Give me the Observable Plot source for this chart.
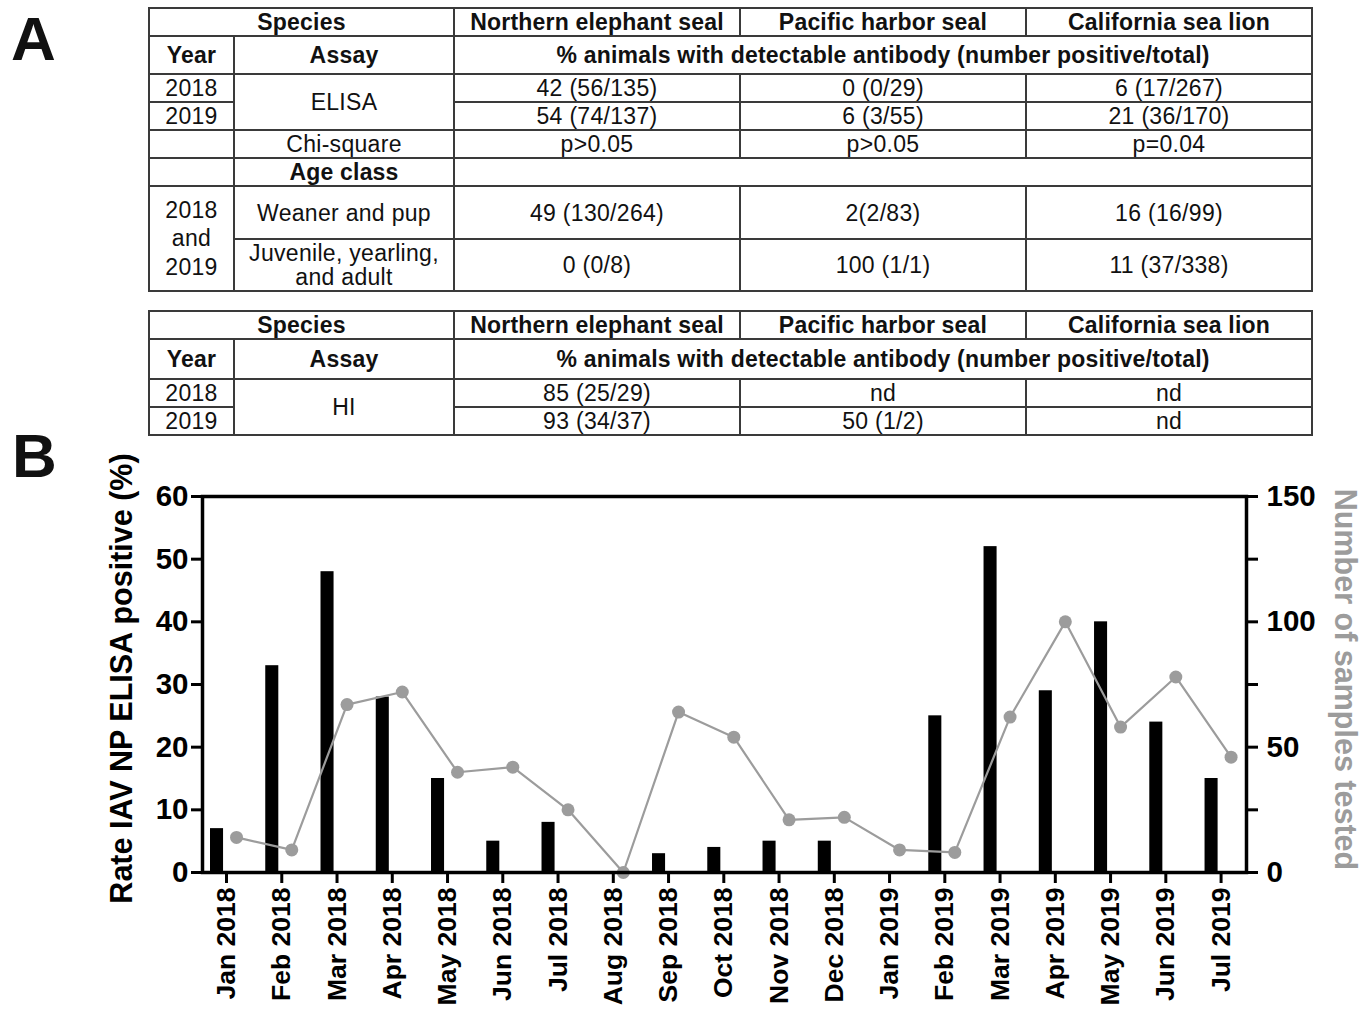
<!DOCTYPE html>
<html>
<head>
<meta charset="utf-8">
<script src="https://cdn.jsdelivr.net/npm/d3@7"></script>
<script src="https://cdn.jsdelivr.net/npm/@observablehq/plot@0.6"></script>
<style>
  html, body { margin: 0; padding: 0; background: #fff; }
  body { width: 1369px; height: 1012px; position: relative; overflow: hidden; font-family: "Liberation Sans", Arial, sans-serif; color: #111; }
  .panel { position: absolute; font-weight: bold; font-size: 62px; line-height: 1; z-index: 2; }
  table { position: absolute; left: 148px; border-collapse: collapse; table-layout: fixed; font-size: 23px; letter-spacing: 0.3px; z-index: 2; background: #fff; }
  td { border: 2px solid #3a3a3a; padding: 0; text-align: center; vertical-align: middle; line-height: 22px; overflow: visible; white-space: nowrap; }
  td.b { font-weight: bold; letter-spacing: 0.2px; }
  td.ml { line-height: 28.5px; }
  td.ml2 { line-height: 24.5px; }
  #chart { position: absolute; left: 0; top: 440px; z-index: 1; }
</style>
</head>
<body>
<div class="panel" style="left:11px; top:8px;">A</div>
<div class="panel" style="left:12px; top:425px;">B</div>
<div id="tables"></div>
<div id="chart"></div>
<script>
// ---------- Panel A data ----------
const species = ["Northern elephant seal", "Pacific harbor seal", "California sea lion"];
const measureHeader = "% animals with detectable antibody (number positive/total)";
const elisa2018 = ["42 (56/135)", "0 (0/29)", "6 (17/267)"];
const elisa2019 = ["54 (74/137)", "6 (3/55)", "21 (36/170)"];
const chiSquare = ["p>0.05", "p>0.05", "p=0.04"];
const weanerPup = ["49 (130/264)", "2(2/83)", "16 (16/99)"];
const juvenileAdult = ["0 (0/8)", "100 (1/1)", "11 (37/338)"];
const hi2018 = ["85 (25/29)", "nd", "nd"];
const hi2019 = ["93 (34/37)", "50 (1/2)", "nd"];

// ---------- Panel B data ----------
const months = ["Jan 2018","Feb 2018","Mar 2018","Apr 2018","May 2018","Jun 2018","Jul 2018","Aug 2018","Sep 2018","Oct 2018","Nov 2018","Dec 2018","Jan 2019","Feb 2019","Mar 2019","Apr 2019","May 2019","Jun 2019","Jul 2019"];
const elisaRate = [7,33,48,28,15,5,8,0,3,4,5,5,0,25,52,29,40,24,15];
const samplesTested = [14,9,67,72,40,42,25,0,64,54,21,22,9,8,62,100,58,78,46];
const leftTicks = [0,10,20,30,40,50,60];
const rightTicks = [0,25,50,75,100,125,150];
const rightMax = 150, leftMax = 60;

// ---------- Tables ----------
const colgroup = `<colgroup><col style="width:85px"><col style="width:220px"><col style="width:286px"><col style="width:286px"><col style="width:286px"></colgroup>`;
const cells = arr => arr.map(v => `<td>${v}</td>`).join("");
const headRows = (h2) => `
  <tr style="height:28px"><td class="b" colspan="2">Species</td>${species.map(s => `<td class="b">${s}</td>`).join("")}</tr>
  <tr style="height:${h2}px"><td class="b">Year</td><td class="b">Assay</td><td class="b" colspan="3">${measureHeader}</td></tr>`;
const t1 = `<table style="top:7px;width:1163px">${colgroup}
  ${headRows(38)}
  <tr style="height:28px"><td>2018</td><td rowspan="2">ELISA</td>${cells(elisa2018)}</tr>
  <tr style="height:28px"><td>2019</td>${cells(elisa2019)}</tr>
  <tr style="height:28px"><td></td><td>Chi-square</td>${cells(chiSquare)}</tr>
  <tr style="height:28px"><td></td><td class="b">Age class</td><td colspan="3"></td></tr>
  <tr style="height:53px"><td rowspan="2" class="ml">2018<br>and<br>2019</td><td>Weaner and pup</td>${cells(weanerPup)}</tr>
  <tr style="height:52px"><td class="ml2">Juvenile, yearling,<br>and adult</td>${cells(juvenileAdult)}</tr>
</table>`;
const t2 = `<table style="top:310px;width:1163px">${colgroup}
  ${headRows(40)}
  <tr style="height:28px"><td>2018</td><td rowspan="2">HI</td>${cells(hi2018)}</tr>
  <tr style="height:28px"><td>2019</td>${cells(hi2019)}</tr>
</table>`;
document.getElementById("tables").innerHTML = t1 + t2;

// ---------- Chart ----------
const data = months.map((m, i) => ({month: m, rate: elisaRate[i], n: samplesTested[i]}));
const toLeft = v => v * leftMax / rightMax;
const grey = "#9c9c9c";

const chart = Plot.plot({
  width: 1369,
  height: 572,
  marginTop: 56,
  marginBottom: 140,
  marginLeft: 202,
  marginRight: 123,
  style: {fontFamily: "'Liberation Sans', Arial, sans-serif", fontSize: "28px", color: "#000", background: "transparent", overflow: "visible"},
  x: {domain: months, type: "band", padding: 0, round: false, range: [198.4, 1248.2]},
  y: {domain: [0, leftMax]},
  marks: [
    Plot.barY(data, {x: "month", y: "rate", fill: "#000", insetLeft: 11.6, insetRight: 30.6}),
    Plot.line(data, {x: "month", y: d => toLeft(d.n), stroke: grey, strokeWidth: 2.2, dx: 10}),
    Plot.dot(data, {x: "month", y: d => toLeft(d.n), r: 6.5, fill: grey, dx: 10}),
    Plot.frame({stroke: "#000", strokeWidth: 3.5}),
    Plot.axisY({anchor: "left", ticks: leftTicks, tickSize: 11, tickPadding: 3, strokeWidth: 3, fontSize: 29.5, fontWeight: "bold", label: null}),
    Plot.axisY({anchor: "right", ticks: rightTicks.map(toLeft), tickFormat: d => { const v = Math.round(d * rightMax / leftMax); return v % 50 === 0 ? String(v) : ""; }, tickSize: 11, tickPadding: 9, strokeWidth: 3, fontSize: 29.5, fontWeight: "bold", label: null}),
    Plot.axisX({anchor: "bottom", tickSize: 11, tickPadding: 4, tickRotate: -90, strokeWidth: 3, fontSize: 26.5, fontWeight: "bold", label: null}),
    Plot.text(["Rate IAV NP ELISA positive (%)"], {frameAnchor: "left", textAnchor: "middle", rotate: -90, dx: -80, dy: -6, fontSize: 30.5, fontWeight: "bold", fill: "#000"}),
    Plot.text(["Number of samples tested"], {frameAnchor: "right", textAnchor: "middle", rotate: 90, dx: 98, dy: -5, fontSize: 30.5, fontWeight: "bold", fill: grey})
  ]
});
document.getElementById("chart").appendChild(chart);
</script>
</body>
</html>
